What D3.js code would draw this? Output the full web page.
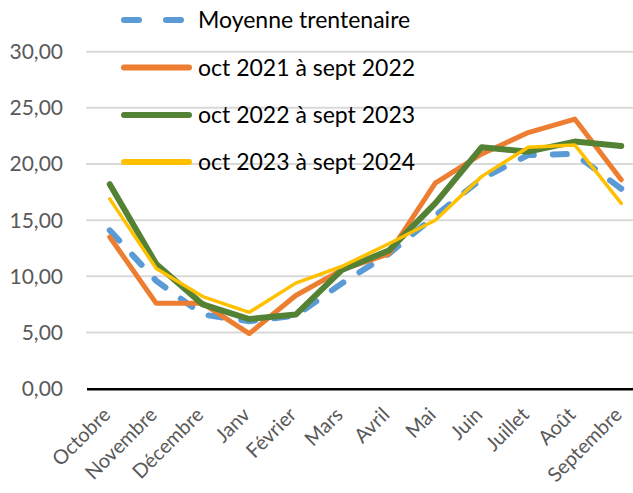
<!DOCTYPE html>
<html>
<head>
<meta charset="utf-8">
<script src="https://cdn.jsdelivr.net/npm/d3@7"></script>
<style>
  body { margin: 0; background: #fff; }
  svg { display: block; font-family: Lato, "Open Sans", sans-serif; }
</style>
</head>
<body>
<div id="chart"></div>
<script>
const months = ["Octobre", "Novembre", "Décembre", "Janv", "Février", "Mars", "Avril", "Mai", "Juin", "Juillet", "Août", "Septembre"];
const moyenne = [14.1, 9.6, 6.6, 6.0, 6.5, 9.4, 12.0, 15.4, 18.7, 20.8, 20.9, 17.8];
const oct21 = [13.5, 7.6, 7.6, 4.9, 8.3, 10.6, 12.0, 18.3, 20.9, 22.8, 24.0, 18.6];
const oct22 = [18.2, 11.1, 7.5, 6.2, 6.6, 10.6, 12.3, 16.5, 21.5, 21.1, 22.0, 21.6];
const oct23 = [16.9, 10.7, 8.2, 6.8, 9.4, 10.9, 12.9, 15.0, 18.9, 21.5, 21.7, 16.5];
const yTicks = [0, 5, 10, 15, 20, 25, 30];

const series = [
  { name: "Moyenne trentenaire", values: moyenne, color: "#5b9bd5", width: 6, dash: "14,19" },
  { name: "oct 2021 à sept 2022", values: oct21, color: "#ed7d31", width: 5, dash: null },
  { name: "oct 2022 à sept 2023", values: oct22, color: "#548235", width: 6, dash: null },
  { name: "oct 2023 à sept 2024", values: oct23, color: "#ffc000", width: 3.5, dash: null }
];

const width = 633, height = 493;
const svg = d3.select("#chart").append("svg")
  .attr("width", width)
  .attr("height", height);

let x = d3.scaleBand()
  .domain(months)
  .range([86.5, 644.5]);

let y = d3.scaleLinear()
  .domain([0, 30])
  .range([388.7, 51.7]);

// gridlines
svg.append("g")
  .selectAll("line")
  .data(yTicks.filter(t => t > 0))
  .enter()
  .append("line")
  .attr("x1", 86)
  .attr("x2", width)
  .attr("y1", d => y(d))
  .attr("y2", d => y(d))
  .attr("stroke", "#d9d9d9")
  .attr("stroke-width", 2);

// y labels
let fmt = d3.format(".2f");
svg.append("g")
  .selectAll("text")
  .data(yTicks)
  .enter()
  .append("text")
  .attr("x", 63)
  .attr("y", d => y(d))
  .attr("dy", "0.35em")
  .attr("text-anchor", "end")
  .attr("fill", "#595959")
  .attr("font-size", 21)
  .text(d => fmt(d).replace(".", ","));

// x axis
let xAxis = d3.axisBottom(x).tickSize(0).tickFormat("");
svg.append("g")
  .attr("transform", "translate(0," + y(0) + ")")
  .call(xAxis)
  .call(g => g.select(".domain").attr("stroke", "#000").attr("stroke-width", 2.5));

svg.append("g")
  .selectAll("text")
  .data(months)
  .enter()
  .append("text")
  .attr("transform", d => "translate(" + (x(d) + x.bandwidth() / 2 + 2) + "," + 416 + ") rotate(-45)")
  .attr("text-anchor", "end")
  .attr("fill", "#595959")
  .attr("font-size", 20)
  .text(d => d);

// lines
let line = d3.line()
  .x((d, i) => x(months[i]) + x.bandwidth() / 2)
  .y(d => y(d));

series.forEach(s => {
  svg.append("path")
    .datum(s.values)
    .attr("d", line)
    .attr("fill", "none")
    .attr("stroke", s.color)
    .attr("stroke-width", s.width)
    .attr("stroke-linejoin", "round")
    .attr("stroke-linecap", "round")
    .attr("stroke-dasharray", s.dash);
});

// legend
let legendY = [20, 67.5, 115, 162];
let legend = svg.append("g")
  .selectAll("g")
  .data(series)
  .enter()
  .append("g")
  .attr("transform", (d, i) => "translate(0," + legendY[i] + ")");

legend.append("line")
  .attr("x1", 124)
  .attr("x2", 189)
  .attr("stroke", d => d.color)
  .attr("stroke-width", 6)
  .attr("stroke-linecap", "round")
  .attr("stroke-dasharray", d => d.dash ? "15,27" : null);

legend.append("text")
  .attr("x", 198)
  .attr("dy", "0.35em")
  .attr("font-size", 23)
  .attr("fill", "#000")
  .text(d => d.name);
</script>
</body>
</html>
